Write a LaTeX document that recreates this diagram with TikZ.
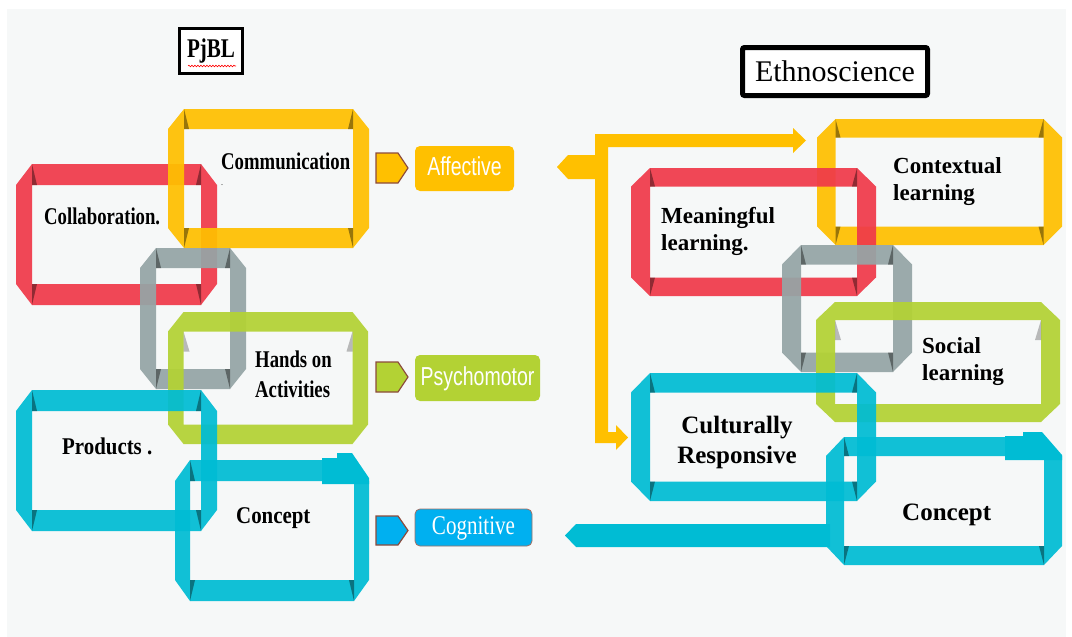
\documentclass[tikz,border=0pt]{standalone}
\usepackage{fontspec}
\setmainfont{Liberation Serif}
\newfontfamily\narrowserif[FakeStretch=0.78]{Liberation Serif}
\newfontfamily\halfnarrowserif[FakeStretch=0.87]{Liberation Serif}
\newfontfamily\narrowsans[FakeStretch=0.75]{Liberation Sans}
\usetikzlibrary{positioning,decorations.pathmorphing}

\definecolor{bgc}{RGB}{246,248,248}
\definecolor{ribred}{RGB}{240,58,74}
\definecolor{ribyellow}{RGB}{255,192,0}
\definecolor{ribgrey}{RGB}{149,165,166}
\definecolor{ribgreen}{RGB}{179,210,52}
\definecolor{ribcyan}{RGB}{0,188,212}
\definecolor{cogblue}{RGB}{0,176,240}
\definecolor{tagborder}{RGB}{140,75,60}

\tikzset{
  lefttext/.style={anchor=base west, inner sep=0, font=\narrowserif\bfseries\fontsize{24}{30}\selectfont},
  righttext/.style={anchor=base west, inner sep=0, font=\bfseries\fontsize{23}{27}\selectfont},
  labelbox/.style={rounded corners=5pt, text=white, inner sep=0, text height=19, text depth=5},
  tagshape/.style={draw=tagborder, line width=1.2pt},
  fold/.style={fill=black, opacity=0.4},
}

% octagonal ribbon frame: colour, x1, y1, x2, y2, side, band
\newcommand{\ribbon}[7]{%
  \fill[#1, fill opacity=0.93, even odd rule]
    ({#2+#6},#3) -- ({#4-#6},#3) -- (#4,{#3+#7}) -- (#4,{#5-#7}) --
    ({#4-#6},#5) -- ({#2+#6},#5) -- (#2,{#5-#7}) -- (#2,{#3+#7}) -- cycle
    ({#2+#6},{#3+#7}) rectangle ({#4-#6},{#5-#7});
}
% folds on the top and bottom bands
\newcommand{\hfolds}[6]{%
  \fill[fold] ({#1+#5},#2) -- ({#1+#5},{#2+#6}) -- ({#1+#5+5},{#2+#6}) -- cycle;
  \fill[fold] ({#3-#5},#2) -- ({#3-#5},{#2+#6}) -- ({#3-#5-5},{#2+#6}) -- cycle;
  \fill[fold] ({#1+#5},#4) -- ({#1+#5},{#4-#6}) -- ({#1+#5+5},{#4-#6}) -- cycle;
  \fill[fold] ({#3-#5},#4) -- ({#3-#5},{#4-#6}) -- ({#3-#5-5},{#4-#6}) -- cycle;
}
% folds on the sides, top corners only
\newcommand{\vfolds}[6]{%
  \fill[fold, opacity=0.25] ({#1+#5},{#2+#6}) -- ({#1+#5},{#2+#6+20}) -- ({#1+#5+6},{#2+#6+20}) -- cycle;
  \fill[fold, opacity=0.25] ({#3-#5},{#2+#6}) -- ({#3-#5},{#2+#6+20}) -- ({#3-#5-6},{#2+#6+20}) -- cycle;
}
\newcommand{\ribbonh}[7]{\ribbon{#1}{#2}{#3}{#4}{#5}{#6}{#7}\hfolds{#2}{#3}{#4}{#5}{#6}{#7}}
\newcommand{\ribbonv}[7]{\ribbon{#1}{#2}{#3}{#4}{#5}{#6}{#7}\vfolds{#2}{#3}{#4}{#5}{#6}{#7}}

\begin{document}
\begin{tikzpicture}[x=1pt,y=-1pt]
\useasboundingbox (0,0) rectangle (1072,637);
\fill[white] (0,0) rectangle (1072,637);
\fill[bgc] (7,9) rectangle (1066,637);

% titles
\node[draw, line width=3, fill=white, minimum width=63, minimum height=45, inner sep=0,
      font=\narrowserif\bfseries\fontsize{27}{30}\selectfont] (pjbl) at (211,51) {PjBL};
\draw[red, line width=0.6, decorate, decoration={snake, amplitude=0.8, segment length=3}] (188,66) -- (236,66);
\node[draw, line width=5, fill=white, rounded corners=2, minimum width=185, minimum height=48, inner sep=0,
      font=\fontsize{30}{34}\selectfont] (ethno) at (835,71.5) {Ethnoscience};

% PjBL chain
\ribbonh{ribred}{16}{164}{217}{305}{16}{21}
\ribbonh{ribyellow}{168}{109}{369}{248}{16}{20}
\ribbonh{ribgrey}{140}{248}{246}{389}{16}{20}
\ribbonv{ribgreen}{168}{312}{368}{444}{15.5}{19.5}
\ribbonh{ribcyan}{16}{390}{217}{531}{16}{21}
\ribbonh{ribcyan}{175}{460}{369}{601}{15}{21}
\fill[ribcyan] (322,458) -- (337,458) -- (337,453) -- (352,453) -- (369,478) -- (369,484) -- (322,484) -- cycle;

\node[lefttext] (communication) at (221,169) {Communication};
\node[font=\fontsize{8}{8}\selectfont, inner sep=0] (commdot) at (222,185) {.};
\node[lefttext] (collaboration) at (44,224) {Collaboration.};
\node[lefttext, align=left] (hands) at (255,397) {Hands on\\Activities};
\node[lefttext, font=\halfnarrowserif\bfseries\fontsize{24}{30}\selectfont] (products) at (62,454) {Products .};
\node[lefttext, font=\halfnarrowserif\bfseries\fontsize{24}{30}\selectfont] (conceptl) at (236,523) {Concept};

% domain tags
\draw[tagshape, fill=ribyellow] (376,153) -- (398,153) -- (408,168) -- (398,183) -- (376,183) -- cycle;
\draw[tagshape, fill=ribgreen] (376,362) -- (398,362) -- (408,377) -- (398,392) -- (376,392) -- cycle;
\draw[tagshape, fill=cogblue] (376,516) -- (398,516) -- (408,530.5) -- (398,545) -- (376,545) -- cycle;

\node[labelbox, fill=ribyellow, minimum width=99, minimum height=45,
      font=\narrowsans\fontsize{26}{30}\selectfont] (affective) at (464.5,168.5) {Affective};
\node[labelbox, fill=ribgreen, minimum width=125, minimum height=46,
      font=\narrowsans\fontsize{26}{30}\selectfont] (psychomotor) at (477.5,378) {Psychomotor};
\node[labelbox, fill=cogblue, draw=tagborder!80, line width=0.8, minimum width=117, minimum height=37,
      font=\narrowserif\fontsize{27}{30}\selectfont] (cognitive) at (473.5,527.5) {Cognitive};

% ethnoscience arrows
\fill[ribyellow] (557,167) -- (568,155) -- (595,155) -- (595,134) -- (793,134) -- (793,128) --
  (806,140.5) -- (793,153) -- (793,147) -- (608,147) -- (608,432) -- (616,432) -- (616,425) --
  (628,437.5) -- (616,450) -- (616,443) -- (595,443) -- (595,179) -- (568,179) -- cycle;
\fill[ribcyan] (565,535.5) -- (576,524) -- (830,524) -- (830,547) -- (576,547) -- cycle;

% Ethnoscience chain
\ribbonh{ribyellow}{817}{119}{1062}{245}{18.5}{18.5}
\ribbonh{ribred}{631}{168}{876}{296}{19}{18.5}
\ribbonh{ribgrey}{782}{245}{912}{372}{19}{19.5}
\ribbonv{ribgreen}{816}{302}{1060}{422}{19}{18}
\ribbonh{ribcyan}{631}{373}{876}{501}{19}{19.5}
\ribbonh{ribcyan}{826}{437}{1062}{565}{18}{19}
\fill[ribcyan] (1005,436) -- (1023,436) -- (1023,432) -- (1042,432) -- (1062,455) -- (1062,460) -- (1005,460) -- cycle;

\node[righttext, align=left] (contextual) at (893,200) {Contextual\\learning};
\node[righttext, align=left] (meaningful) at (661,250) {Meaningful\\learning.};
\node[righttext, align=left] (social) at (922,380) {Social\\learning};
\node[righttext, anchor=base, align=center, font=\bfseries\fontsize{25}{30}\selectfont] (cultural) at (737,463) {Culturally\\Responsive};
\node[righttext, font=\bfseries\fontsize{25}{30}\selectfont] (conceptr) at (902,520) {Concept};
\end{tikzpicture}
\end{document}
